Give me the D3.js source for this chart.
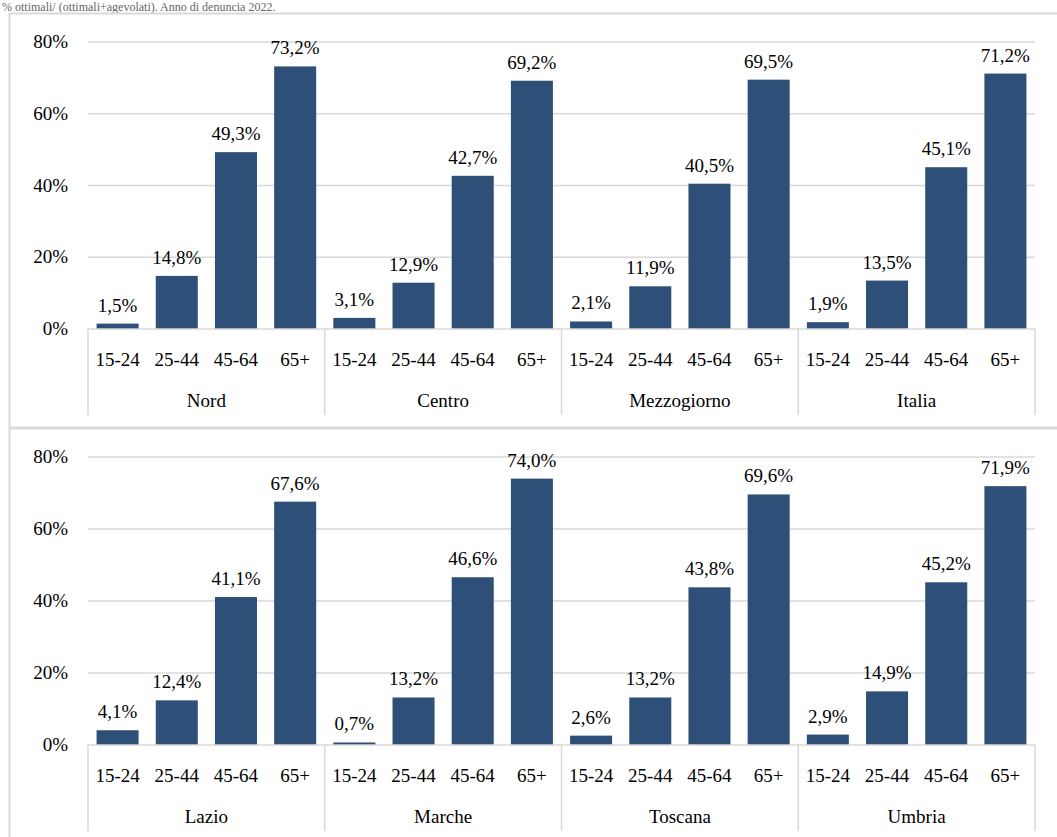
<!DOCTYPE html><html><head><meta charset="utf-8"><script src="https://cdn.jsdelivr.net/npm/d3@7"></script>
<style>body{margin:0;background:#fff} svg text{font-family:"Liberation Serif","DejaVu Serif",serif !important}</style></head><body><svg id="c" width="1057" height="837"></svg><script>
const ages=["15-24","25-44","45-64","65+"];
const regionsTop=["Nord","Centro","Mezzogiorno","Italia"];
const valuesTop=[[1.5,14.8,49.3,73.2],[3.1,12.9,42.7,69.2],[2.1,11.9,40.5,69.5],[1.9,13.5,45.1,71.2]];
const regionsBottom=["Lazio","Marche","Toscana","Umbria"];
const valuesBottom=[[4.1,12.4,41.1,67.6],[0.7,13.2,46.6,74.0],[2.6,13.2,43.8,69.6],[2.9,14.9,45.2,71.9]];
const ticks=[0,20,40,60,80];
const svg=d3.select("#c");
svg.append("text").attr("x",2).attr("y",11).attr("font-size",12).attr("fill","#666").text("% ottimali/ (ottimali+agevolati). Anno di denuncia 2022.");
function panel(top,bottom,y0,y80,regions,vals){
  svg.append("rect").attr("x",9.5).attr("y",top+.5).attr("width",1060).attr("height",bottom-top).attr("fill","none").attr("stroke","#d9d9d9").attr("stroke-width",2);
  const y=d3.scaleLinear().domain([0,80]).range([y0,y80]);
  const x0=d3.scaleBand().domain(regions).range([88,1035]);
  const x1=d3.scaleBand().domain(ages).range([0,x0.bandwidth()]).paddingInner(0.29).paddingOuter(0.145);
  const g=svg.append("g");
  ticks.forEach(t=>{ if(t>0) g.append("line").attr("x1",88).attr("x2",1035).attr("y1",y(t)).attr("y2",y(t)).attr("stroke","#d9d9d9").attr("stroke-width",1.5);
    g.append("text").attr("x",68).attr("y",y(t)+6).attr("text-anchor","end").attr("font-size",19).text(t+"%");});
  regions.forEach((r,i)=>{
    const gx=x0(r);
    vals[i].forEach((v,j)=>{
      g.append("rect").attr("x",gx+x1(ages[j])).attr("y",y(v)).attr("width",x1.bandwidth()).attr("height",y(0)-y(v)).attr("fill","#2e5078");
      g.append("text").attr("x",gx+x1(ages[j])+x1.bandwidth()/2).attr("y",y(v)-12).attr("text-anchor","middle").attr("font-size",19).text(v.toFixed(1).replace(".",",")+"%");
      g.append("text").attr("x",gx+x1(ages[j])+x1.bandwidth()/2).attr("y",y0+37).attr("text-anchor","middle").attr("font-size",19).text(ages[j]);
    });
    g.append("text").attr("x",gx+x0.bandwidth()/2).attr("y",y0+78).attr("text-anchor","middle").attr("font-size",19).text(r);
    g.append("line").attr("x1",gx).attr("x2",gx).attr("y1",y0).attr("y2",y0+86).attr("stroke","#d9d9d9").attr("stroke-width",1.5);
  });
  g.append("line").attr("x1",1035).attr("x2",1035).attr("y1",y0).attr("y2",y0+86).attr("stroke","#d9d9d9").attr("stroke-width",1.5);
  g.append("line").attr("x1",88).attr("x2",1035).attr("y1",y0).attr("y2",y0).attr("stroke","#d9d9d9").attr("stroke-width",1.5);
}
panel(13,427,329,42,regionsTop,valuesTop);
panel(428,850,745,457,regionsBottom,valuesBottom);
</script></body></html>
